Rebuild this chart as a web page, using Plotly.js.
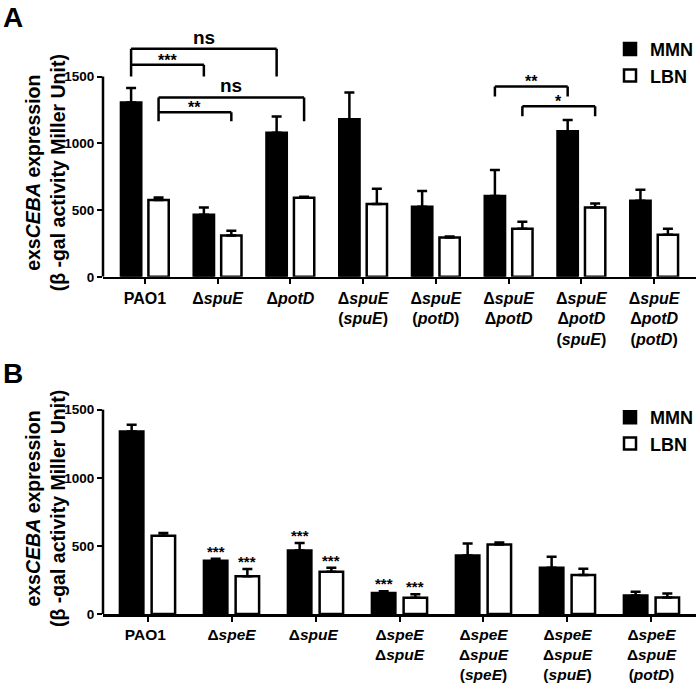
<!DOCTYPE html>
<html><head><meta charset="utf-8">
<script src="https://cdn.plot.ly/plotly-3.0.1.min.js"></script>
<style>html,body{margin:0;padding:0;background:#fff}</style>
</head><body><div id="chart" style="width:700px;height:684px"></div>
<script>
// ---- Panel A data ----
const catsA = [
  'PAO1',
  'Δ<i>spuE</i>',
  'Δ<i>potD</i>',
  'Δ<i>spuE</i><br>(<i>spuE</i>)',
  'Δ<i>spuE</i><br>(<i>potD</i>)',
  'Δ<i>spuE</i><br>Δ<i>potD</i>',
  'Δ<i>spuE</i><br>Δ<i>potD</i><br>(<i>spuE</i>)',
  'Δ<i>spuE</i><br>Δ<i>potD</i><br>(<i>potD</i>)'
];
const mmnA    = [1305, 465, 1080, 1180, 525, 605, 1090, 570];
const mmnErrA = [110, 55, 120, 200, 117, 195, 85, 82];
const lbnA    = [575, 310, 592, 545, 295, 360, 520, 315];
const lbnErrA = [20, 35, 8, 115, 8, 52, 30, 46];

// ---- Panel B data ----
const catsB = [
  'PAO1 ',
  'Δ<i>speE</i>',
  'Δ<i>spuE</i> ',
  'Δ<i>speE</i><br>Δ<i>spuE</i>',
  'Δ<i>speE</i><br>Δ<i>spuE</i><br>(<i>speE</i>)',
  'Δ<i>speE</i><br>Δ<i>spuE</i><br>(<i>spuE</i>)',
  'Δ<i>speE</i><br>Δ<i>spuE</i><br>(<i>potD</i>)'
];
const mmnB    = [1340, 390, 467, 155, 430, 340, 135];
const mmnErrB = [50, 15, 55, 12, 88, 80, 28];
const lbnB    = [575, 278, 310, 120, 510, 287, 122];
const lbnErrB = [20, 52, 30, 25, 15, 46, 28];
const sigMmnB = ['', '***', '***', '***', '', '', ''];
const sigLbnB = ['', '***', '***', '***', '', '', ''];

const seriesNames = ['MMN', 'LBN'];
const yTicks = [0, 500, 1000, 1500];

// ---- styling ----
const FONT = 'Liberation Sans, Arial, Helvetica, sans-serif';
const BARGAP = 0.245, GROUPGAP = 0.26;
const OFF = (1 - BARGAP) / 4; // centre offset of each bar within its group

function errY(arr) {
  return {type: 'data', symmetric: false, array: arr, arrayminus: arr.map(() => 0),
          color: '#000', thickness: 2.5, width: 5, visible: true};
}
function barTrace(name, x, y, err, fill, xa, ya, leg) {
  return {type: 'bar', name: name, x: x, y: y, xaxis: xa, yaxis: ya, legend: leg,
    marker: {color: fill, line: {color: '#000', width: 2.5}},
    error_y: errY(err), hoverinfo: 'x+y+name'};
}

const data = [
  barTrace(seriesNames[0], catsA, mmnA, mmnErrA, '#000', 'x', 'y', 'legend'),
  barTrace(seriesNames[1], catsA, lbnA, lbnErrA, '#fff', 'x', 'y', 'legend'),
  barTrace(seriesNames[0], catsB, mmnB, mmnErrB, '#000', 'x2', 'y2', 'legend2'),
  barTrace(seriesNames[1], catsB, lbnB, lbnErrB, '#fff', 'x2', 'y2', 'legend2')
];

const shapes = [];
const annotations = [];
function line(xa, ya, x0, y0, x1, y1) {
  shapes.push({type: 'line', xref: xa, yref: ya, x0: x0, y0: y0, x1: x1, y1: y1,
    line: {color: '#000', width: 2.5}, layer: 'above'});
}
// significance bracket: horizontal at yTop between x0,x1 with end drops
function bracket(x0, x1, yTop, yLeft, yRight, label, size, shift) {
  line('x', 'y', x0, yTop, x1, yTop);
  if (yLeft !== null) line('x', 'y', x0, yTop, x0, yLeft);
  if (yRight !== null) line('x', 'y', x1, yTop, x1, yRight);
  annotations.push({xref: 'x', yref: 'y', x: (x0 + x1) / 2, y: yTop, text: label,
    showarrow: false, yanchor: 'bottom', yshift: shift,
    font: {family: FONT, size: size, color: '#000', weight: 'bold'}});
}
bracket(0 - OFF, 2 - OFF, 1708, 1500, 1500, 'ns', 19, -1);
bracket(0 - OFF, 1 - OFF, 1589, null, 1500, '***', 16, -6);
bracket(0 + OFF, 2 + OFF, 1344, 1166, 1166, 'ns', 19, -1);
bracket(0 + OFF, 1 + OFF, 1233, null, 1166, '**', 16, -6);
bracket(5 - OFF, 6 - OFF, 1426, 1351, 1351, '**', 16, -6);
bracket(5 + OFF, 6 + OFF, 1277, 1203, 1203, '*', 16, -6);

// y-axis lines (stop at 1500)
line('x domain', 'y', 0, 0, 0, 1500);
line('x2 domain', 'y2', 0, 0, 0, 1500);

// stars above panel B bars
catsB.forEach((c, i) => {
  if (sigMmnB[i]) annotations.push({xref: 'x2', yref: 'y2', x: i - OFF, y: mmnB[i] + mmnErrB[i],
    text: sigMmnB[i], showarrow: false, yanchor: 'bottom', yshift: -3,
    font: {family: FONT, size: 15, color: '#000', weight: 'bold'}});
  if (sigLbnB[i]) annotations.push({xref: 'x2', yref: 'y2', x: i + OFF, y: lbnB[i] + lbnErrB[i],
    text: sigLbnB[i], showarrow: false, yanchor: 'bottom', yshift: -3,
    font: {family: FONT, size: 15, color: '#000', weight: 'bold'}});
});

// panel letters
annotations.push({xref: 'paper', yref: 'paper', x: -0.172, y: 1.042, xanchor: 'left', yanchor: 'top',
  text: 'A', showarrow: false, font: {family: FONT, size: 28, color: '#000', weight: 'bold'}});
annotations.push({xref: 'paper', yref: 'paper', x: -0.172, y: 0.438, xanchor: 'left', yanchor: 'top',
  text: 'B', showarrow: false, font: {family: FONT, size: 28, color: '#000', weight: 'bold'}});

// y-axis titles (placed as rotated annotations for exact position)
const yTitle = 'exs<i>CEBA</i> expression<br>(β -gal activity Miller Unit)';
[['y', 775], ['y2', 770]].forEach(([ya, yv]) => {
  annotations.push({xref: 'paper', yref: ya, x: 0, y: yv, xanchor: 'center', yanchor: 'middle',
    xshift: -58, textangle: -90, text: yTitle, showarrow: false,
    font: {family: FONT, size: 19.5, color: '#000', weight: 'bold'}});
});

function xAxis(range, anchor, fs) {
  return {type: 'category', range: range, anchor: anchor, showline: true, linecolor: '#000',
    linewidth: 2.5, ticks: 'outside', ticklen: 5, tickwidth: 2, tickcolor: '#000',
    showgrid: false, zeroline: false, automargin: false,
    tickfont: {family: FONT, size: fs, color: '#000', weight: 'bold'}};
}
function yAxis(domain, range, anchor) {
  return {domain: domain, range: range, anchor: anchor, tickvals: yTicks, ticktext: yTicks.map(String),
    ticks: 'outside', ticklen: 5, tickwidth: 2, tickcolor: '#000', showline: false,
    showgrid: false, zeroline: false, automargin: false,
    tickfont: {family: FONT, size: 13.5, color: '#000', weight: 'bold'}};
}

const legendStyle = {xanchor: 'left', yanchor: 'top', bgcolor: 'rgba(0,0,0,0)', borderwidth: 0,
  tracegroupgap: 0, itemwidth: 30, font: {family: FONT, size: 18, color: '#000', weight: 'bold'}};

const layout = {
  width: 700, height: 684,
  margin: {l: 103, r: 2, t: 25, b: 70},
  paper_bgcolor: '#fff', plot_bgcolor: '#fff',
  barmode: 'group', bargap: BARGAP, bargroupgap: GROUPGAP,
  font: {family: FONT, color: '#000'},
  xaxis: xAxis([-0.575, 7.575], 'y', 16),
  yaxis: yAxis([0.5724, 1], [0, 1886], 'x'),
  xaxis2: xAxis([-0.53, 6.53], 'y2', 15.5),
  yaxis2: yAxis([0, 0.3668], [0, 1586], 'x2'),
  legend: Object.assign({x: 0.855, y: 0.99}, legendStyle),
  legend2: Object.assign({x: 0.855, y: 0.365}, legendStyle),
  shapes: shapes,
  annotations: annotations,
  showlegend: true
};

Plotly.newPlot('chart', data, layout, {displayModeBar: false, staticPlot: true});
</script>
</body></html>
